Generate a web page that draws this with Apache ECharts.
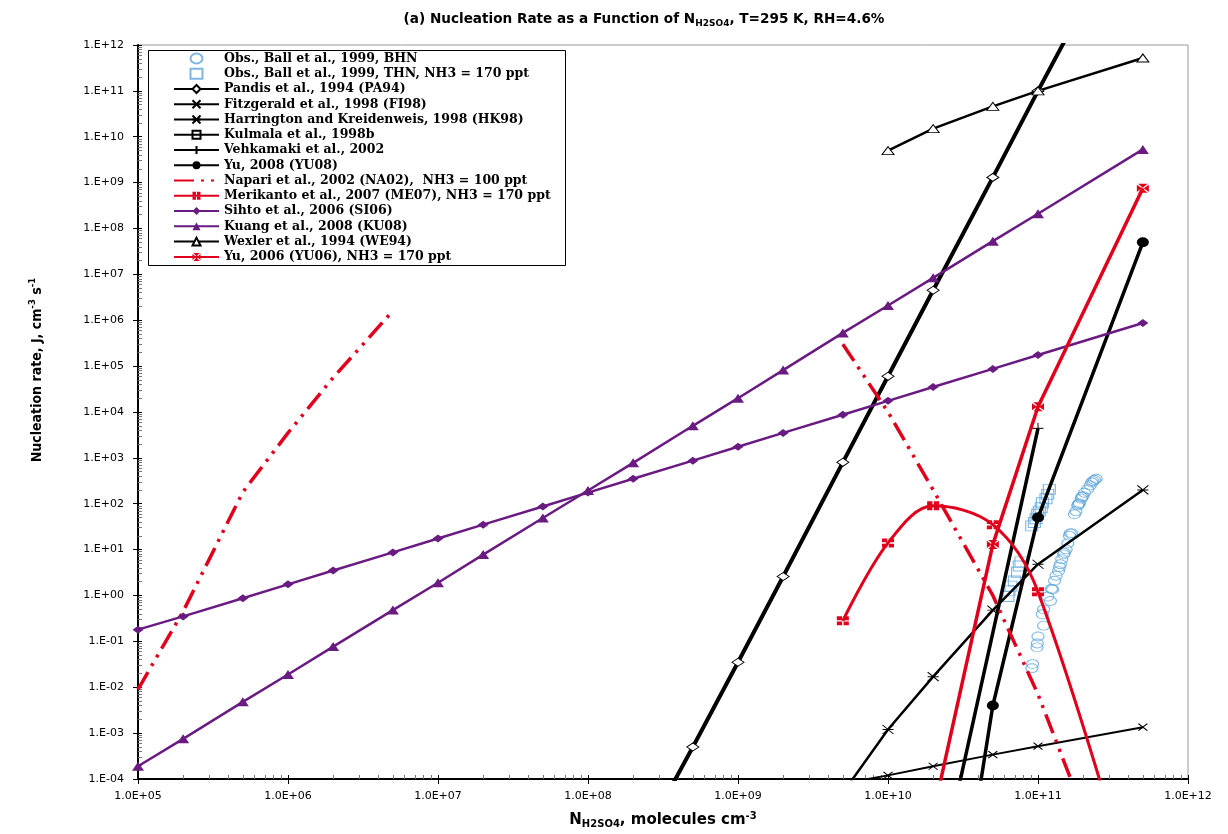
<!DOCTYPE html>
<html>
<head>
<meta charset="utf-8">
<title>Nucleation Rate as a Function of NH2SO4</title>
<script src="https://cdn.jsdelivr.net/npm/echarts@6/dist/echarts.min.js"></script>
<style>
  html, body { margin: 0; background: #fff; }
  #main { width: 1228px; height: 834px; }
</style>
</head>
<body>
<div id="main"></div>
<script>
// [N_H2SO4, J] pairs
var ballBHN = [[2.44e11, 351], [2.38e11, 330], [2.32e11, 311], [2.28e11, 290], [2.23e11, 251], [2.14e11, 206],
  [2.04e11, 174], [1.99e11, 147], [1.96e11, 140], [1.94e11, 129], [1.89e11, 102], [1.86e11, 98], [1.84e11, 92],
  [1.79e11, 69], [1.75e11, 59], [1.64e11, 22.6], [1.68e11, 22.6], [1.62e11, 20], [1.58e11, 13.7], [1.54e11, 10.1],
  [1.50e11, 8.5], [1.48e11, 7.9], [1.44e11, 6.2], [1.41e11, 4.8], [1.39e11, 4.2], [1.37e11, 3.4], [1.32e11, 2.7],
  [1.29e11, 2.1], [1.23e11, 1.4], [1.25e11, 1.35], [1.21e11, 0.76], [1.16e11, 0.95], [1.09e11, 0.5],
  [1.07e11, 0.39], [1.09e11, 0.22], [1.0e11, 0.128], [9.9e10, 0.09], [9.85e10, 0.074], [9.2e10, 0.032],
  [9.1e10, 0.026]];
var ballTHN = [[1.19e11, 206], [1.16e11, 160], [1.13e11, 129], [1.07e11, 105], [1.05e11, 82], [1.02e11, 69],
  [9.95e10, 59], [9.7e10, 47], [9.45e10, 39], [9.08e10, 33], [7.7e10, 5.4], [7.5e10, 4.4], [7.3e10, 3.2],
  [6.96e10, 2.07], [6.6e10, 1.6], [6.4e10, 1.26], [6.3e10, 0.95]];
var pandisPA94 = [[2e8, 2e-6], [5e8, 5e-4], [1e9, 0.035], [2e9, 2.6], [5e9, 800], [1e10, 6e4], [2e10, 4.5e6],
  [5e10, 1.3e9], [1e11, 1e11], [2e11, 7e12]];
var fitzgeraldFI98 = [[5e9, 8e-5], [1e10, 1.2e-4], [2e10, 1.9e-4], [5e10, 3.4e-4], [1e11, 5.2e-4], [5e11, 1.35e-3]];
var harringtonHK98 = [[5e9, 5e-5], [1e10, 1.2e-3], [2e10, 0.017], [5e10, 0.48], [1e11, 4.8], [5e11, 200]];
var kulmala98b = [];
var vehkamaki02 = [[2e10, 2e-7], [1e11, 4.4e3]];
var yuYU08 = [[4e10, 4e-5], [5e10, 4e-3], [1e11, 50], [5e11, 5e7]];
var napariNA02 = [[1e5, 9e-3], [2e5, 0.45], [5e5, 180], [1e6, 3.5e3], [2e6, 5.6e4], [5e6, 1.6e6], [1e8, '-'],
  [5e9, 3e5], [1e10, 1e4], [2e10, 200], [5e10, 1.0], [1e11, 7e-3], [2e11, 2e-5]];
var merikantoME07 = [[5e9, 0.28], [1e10, 14], [2e10, 90], [5e10, 35], [1e11, 1.2], [5e11, 6e-8]];
var sihtoSI06 = [[1e5, 0.18], [2e5, 0.35], [5e5, 0.87], [1e6, 1.75], [2e6, 3.5], [5e6, 8.7], [1e7, 17.5],
  [2e7, 35], [5e7, 87], [1e8, 175], [2e8, 350], [5e8, 870], [1e9, 1750], [2e9, 3500], [5e9, 8700],
  [1e10, 1.75e4], [2e10, 3.5e4], [5e10, 8.7e4], [1e11, 1.75e5], [5e11, 8.7e5]];
var kuangKU08 = [[1e5, 1.9e-4], [2e5, 7.5e-4], [5e5, 4.8e-3], [1e6, 0.019], [2e6, 0.077], [5e6, 0.48],
  [1e7, 1.9], [2e7, 7.8], [5e7, 49], [1e8, 195], [2e8, 780], [5e8, 5.0e3], [1e9, 2.0e4], [2e9, 8.2e4],
  [5e9, 5.3e5], [1e10, 2.1e6], [2e10, 8.4e6], [5e10, 5.3e7], [1e11, 2.1e8], [5e11, 5.3e9]];
var wexlerWE94 = [[1e10, 5e9], [2e10, 1.5e10], [5e10, 4.6e10], [1e11, 1e11], [5e11, 5.2e11]];
var yuYU06 = [[2e10, 1.7e-5], [5e10, 13], [1e11, 1.3e4], [5e11, 7.5e8]];

var xMajor = [1e5, 1e6, 1e7, 1e8, 1e9, 1e10, 1e11, 1e12];
var yMajor = [1e-4, 1e-3, 1e-2, 1e-1, 1, 10, 1e2, 1e3, 1e4, 1e5, 1e6, 1e7, 1e8, 1e9, 1e10, 1e11, 1e12];

function minorsOf(majors) {
  var out = [];
  for (var i = 0; i < majors.length - 1; i++) {
    for (var k = 2; k <= 9; k++) out.push(majors[i] * k);
  }
  return out;
}
var xMinor = minorsOf(xMajor);
var yMinor = minorsOf(yMajor);

var RED = '#E0001B', PURPLE = '#6A1B82', BLUE = '#5BA4DC', BLACK = '#000';
var SANS = "'DejaVu Sans', 'Liberation Sans', sans-serif";
var NARROW = "'Liberation Sans Narrow', 'DejaVu Sans Condensed', 'DejaVu Sans', sans-serif";

function expo(v) {
  var e = Math.round(Math.log10(v));
  return (e < 0 ? '-' : '+') + (Math.abs(e) < 10 ? '0' : '') + Math.abs(e);
}

function line(name, data, color, width, symbol, size, item, extra) {
  var s = {
    name: name, type: 'line', data: data, clip: true,
    showSymbol: true, symbol: symbol, symbolSize: size,
    lineStyle: { color: color, width: width },
    itemStyle: item,
    connectNulls: false,
    emphasis: { disabled: true }
  };
  for (var k in extra || {}) s[k] = extra[k];
  return s;
}

// tick-only overlay axes (minor ticks inside, major ticks inside so they cross the axis)
function tickAxis(kind, min, max, values, len, color) {
  return {
    type: 'log', logBase: 10, min: min, max: max, position: kind, offset: 0,
    axisLine: { show: false },
    axisTick: { show: true, inside: true, length: len, customValues: values, lineStyle: { color: color } },
    axisLabel: { show: false },
    splitLine: { show: false }
  };
}

var P_X = 'path://M0,0L10,10M10,0L0,10';
var P_AST = 'path://M0,0L10,10M10,0L0,10M0,5L10,5';
var P_BOXLINE = 'path://M0,0H10V10H0ZM0,5H10';
var P_PLUS = 'path://M5,0V10M0,5H10';
var P_BOXPLUS = 'path://M0,0H4.4V4.2H0ZM5.6,0H10V4.2H5.6ZM0,5.8H4.4V10H0ZM5.6,5.8H10V10H5.6Z';
var P_BOXX = 'path://M1,0H9L5,4.2ZM10,1V9L5.8,5ZM9,10H1L5,5.8ZM0,9V1L4.2,5Z';

var series = [
  { name: 'Obs., Ball et al., 1999, BHN', type: 'scatter', data: ballBHN, symbol: 'circle', symbolSize: [12, 9],
    itemStyle: { color: 'rgba(0,0,0,0)', borderColor: BLUE, borderWidth: 1 }, emphasis: { disabled: true } },
  { name: 'Obs., Ball et al., 1999, THN, NH3 = 170 ppt', type: 'scatter', data: ballTHN, symbol: 'rect', symbolSize: [12, 10],
    itemStyle: { color: 'rgba(0,0,0,0)', borderColor: BLUE, borderWidth: 1 }, emphasis: { disabled: true } },
  line('Pandis et al., 1994 (PA94)', pandisPA94, BLACK, 4, 'diamond', [12, 8],
    { color: '#fff', borderColor: BLACK, borderWidth: 1 }),
  line('Fitzgerald et al., 1998 (FI98)', fitzgeraldFI98, BLACK, 2, P_X, [9, 7],
    { color: 'rgba(0,0,0,0)', borderColor: BLACK, borderWidth: 1 }),
  line('Harrington and Kreidenweis, 1998 (HK98)', harringtonHK98, BLACK, 2.5, P_AST, [11, 9],
    { color: 'rgba(0,0,0,0)', borderColor: BLACK, borderWidth: 1 }),
  line('Kulmala et al., 1998b', kulmala98b, BLACK, 2.5, P_BOXLINE, [11, 9],
    { color: '#fff', borderColor: BLACK, borderWidth: 1 }),
  line('Vehkamaki et al., 2002', vehkamaki02, BLACK, 3.5, P_PLUS, [11, 11],
    { color: 'rgba(0,0,0,0)', borderColor: BLACK, borderWidth: 1 }),
  line('Yu, 2008 (YU08)', yuYU08, BLACK, 3.5, 'circle', [12, 10], { color: BLACK }),
  line('Napari et al., 2002 (NA02),  NH3 = 100 ppt', napariNA02, RED, 3.5, 'none', 1,
    { color: 'rgba(0,0,0,0)' },
    { lineStyle: { color: RED, width: 3.5, type: [20, 7, 3, 7, 3, 7], cap: 'butt' } }),
  line('Merikanto et al., 2007 (ME07), NH3 = 170 ppt', merikantoME07, RED, 3, P_BOXPLUS, [12, 9],
    { color: RED }, { smooth: 0.35 }),
  line('Sihto et al., 2006 (SI06)', sihtoSI06, PURPLE, 2.5, 'diamond', [11, 8], { color: PURPLE }),
  line('Kuang et al., 2008 (KU08)', kuangKU08, PURPLE, 2.5, 'triangle', [12, 9], { color: PURPLE }),
  line('Wexler et al., 1994 (WE94)', wexlerWE94, BLACK, 2.5, 'triangle', [12, 8],
    { color: '#fff', borderColor: BLACK, borderWidth: 1 }),
  line('Yu, 2006 (YU06), NH3 = 170 ppt', yuYU06, RED, 3.5, P_BOXX, [12, 9], { color: RED })
];

var legendData = series.map(function (s) {
  if (s.symbol === 'rect') return { name: s.name, icon: 'path://M0,0H12V10H0Z' };
  if (s.type === 'scatter') return { name: s.name, icon: 'path://M0,5A6,5,0,1,1,12,5A6,5,0,1,1,0,5Z' };
  return s.name;
});

var chart = echarts.init(document.getElementById('main'), null, { renderer: 'canvas' });
chart.setOption({
  animation: false,
  backgroundColor: '#fff',
  title: {
    text: '(a) Nucleation Rate as a Function of N{s|H2SO4}, T=295 K, RH=4.6%',
    left: 639, top: 5, textAlign: 'center',
    textStyle: {
      fontFamily: SANS, fontWeight: 'bold', fontSize: 13.6, color: '#000', lineHeight: 18,
      rich: { s: { fontFamily: SANS, fontWeight: 'bold', fontSize: 9, lineHeight: 10, verticalAlign: 'bottom', color: '#000' } }
    }
  },
  graphic: [{
    type: 'rect', left: 148, top: 50, z: 3,
    shape: { width: 417, height: 215 },
    style: { fill: '#fff', stroke: '#000', lineWidth: 1 }
  }],
  legend: {
    orient: 'vertical', left: 173, top: 52, padding: 0, z: 5,
    itemWidth: 45, itemHeight: 10, itemGap: 2.26,
    selectedMode: false,
    textStyle: { fontFamily: "'DejaVu Serif', serif", fontWeight: 'bold', fontSize: 12.5, color: '#000', lineHeight: 12 },
    data: legendData
  },
  grid: { left: 138, right: 40, top: 45, bottom: 54.5, show: true, borderColor: '#999', borderWidth: 1 },
  xAxis: [{
    type: 'log', logBase: 10, min: 1e5, max: 1e12, splitNumber: 7, interval: 1,
    axisLine: { lineStyle: { color: '#000', width: 2 } },
    axisTick: { show: true, length: 5, lineStyle: { color: '#000' } },
    axisLabel: { fontFamily: SANS, fontSize: 11, color: '#000', margin: 12,
      formatter: function (v) { return '1.0E' + expo(v); } },
    splitLine: { show: false },
    name: 'N{s|H2SO4}, molecules cm{p|-3}', nameLocation: 'middle', nameGap: 32,
    nameTextStyle: {
      fontFamily: SANS, fontWeight: 'bold', fontSize: 15, color: '#000', lineHeight: 18,
      rich: {
        s: { fontFamily: SANS, fontWeight: 'bold', fontSize: 10, lineHeight: 10, verticalAlign: 'bottom', color: '#000' },
        p: { fontFamily: SANS, fontWeight: 'bold', fontSize: 10, lineHeight: 10, verticalAlign: 'top', color: '#000' }
      }
    }
  },
  tickAxis('bottom', 1e5, 1e12, xMinor, 4, '#777'),
  tickAxis('bottom', 1e5, 1e12, xMajor, 4, '#000')],
  yAxis: [{
    type: 'log', logBase: 10, min: 1e-4, max: 1e12, splitNumber: 16, interval: 1,
    axisLine: { lineStyle: { color: '#000', width: 2 } },
    axisTick: { show: true, length: 5, lineStyle: { color: '#000' } },
    axisLabel: { fontFamily: SANS, fontSize: 11, color: '#000', margin: 14,
      formatter: function (v) { return '1.E' + expo(v); } },
    splitLine: { show: false },
    name: 'Nucleation rate, J, cm{p|-3} s{p|-1}', nameLocation: 'middle', nameRotate: 90, nameGap: 92,
    nameTextStyle: {
      fontFamily: NARROW, fontWeight: 'bold', fontSize: 14, color: '#000', lineHeight: 18,
      padding: [0, 0, 0, 84],
      rich: {
        p: { fontFamily: NARROW, fontWeight: 'bold', fontSize: 9.5, lineHeight: 10, verticalAlign: 'top', color: '#000' }
      }
    }
  },
  tickAxis('left', 1e-4, 1e12, yMinor, 4, '#777'),
  tickAxis('left', 1e-4, 1e12, yMajor, 4, '#000')],
  series: series
});
</script>
</body>
</html>
